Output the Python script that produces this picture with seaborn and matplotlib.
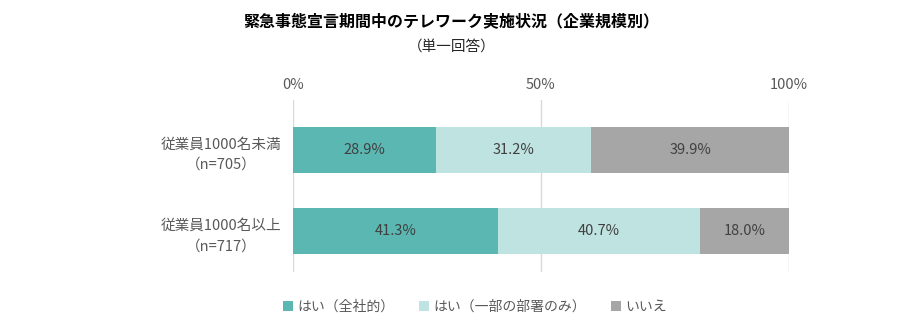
import matplotlib
matplotlib.use("Agg")
import matplotlib.pyplot as plt
import seaborn as sns
import pandas as pd
import numpy as np
from matplotlib.patches import Patch

categories = ["従業員1000名未満\n（n=705）", "従業員1000名以上\n（n=717）"]
series_names = ["はい（全社的）", "はい（一部の部署のみ）", "いいえ"]
yes_all = [28.9, 41.3]
yes_part = [31.2, 40.7]
no = [39.9, 18.0]
colors = ["#5BB7B2", "#BFE3E0", "#A6A6A6"]
xticks = [0, 50, 100]
xticklabels = ["0%", "50%", "100%"]

sns.set_theme(style="white")
plt.rcParams['font.family'] = ['Noto Sans CJK JP', 'DejaVu Sans']

fig = plt.figure(figsize=(9.03, 3.36), dpi=100)
ax = fig.add_axes([293/903, 1-272/336, (789-293)/903, 172/336])

vals = [yes_all, yes_part, no]
cum = np.cumsum(np.array(vals), axis=0)
for i in range(len(series_names) - 1, -1, -1):
    df = pd.DataFrame({"cat": categories, "v": cum[i]})
    sns.barplot(data=df, y="cat", x="v", orient="h", color=colors[i],
                width=0.568, ax=ax, saturation=1, edgecolor="none", linewidth=0)

ax.set_xlim(0, 100)
ax.set_ylim(1.506, -0.617)
ax.set_xticks(xticks)
ax.set_xticklabels(xticklabels)
ax.xaxis.tick_top()
ax.tick_params(axis="x", length=0, pad=6, labelsize=10.5, labelcolor="#595959")
ax.tick_params(axis="y", length=0, labelsize=10.5, labelcolor="#595959")
ax.set_xlabel("")
ax.set_ylabel("")
for lab in ax.get_yticklabels():
    lab.set_horizontalalignment("center")
    lab.set_linespacing(1.6)
ax.yaxis.set_tick_params(pad=52)
for s in ax.spines.values():
    s.set_visible(False)
for x in xticks:
    ax.axvline(x, color="#D9D9D9", linewidth=1, zorder=0)

# value labels
for j in range(len(categories)):
    start = 0
    for i in range(len(series_names)):
        v = vals[i][j]
        ax.text(start + v / 2, j, f"{v:.1f}%", ha="center", va="center",
                fontsize=10.5, color="#404040")
        start += v

fig.text(0.5, 1 - 22/336, "緊急事態宣言期間中のテレワーク実施状況（企業規模別）",
         ha="center", va="center", fontsize=11.5, fontweight="bold", color="#000000")
fig.text(0.5, 1 - 47/336, "（単一回答）", ha="center", va="center",
         fontsize=10.5, color="#262626")

handles = [Patch(facecolor=c, edgecolor="none") for c in colors]
fig.legend(handles, series_names, loc="center", bbox_to_anchor=(0.526, 1 - 307/336),
           ncol=3, frameon=False, fontsize=10, handlelength=0.7, handleheight=0.7,
           handletextpad=0.3, columnspacing=1.8, labelcolor="#595959")

fig.savefig("out.png", dpi=100)
